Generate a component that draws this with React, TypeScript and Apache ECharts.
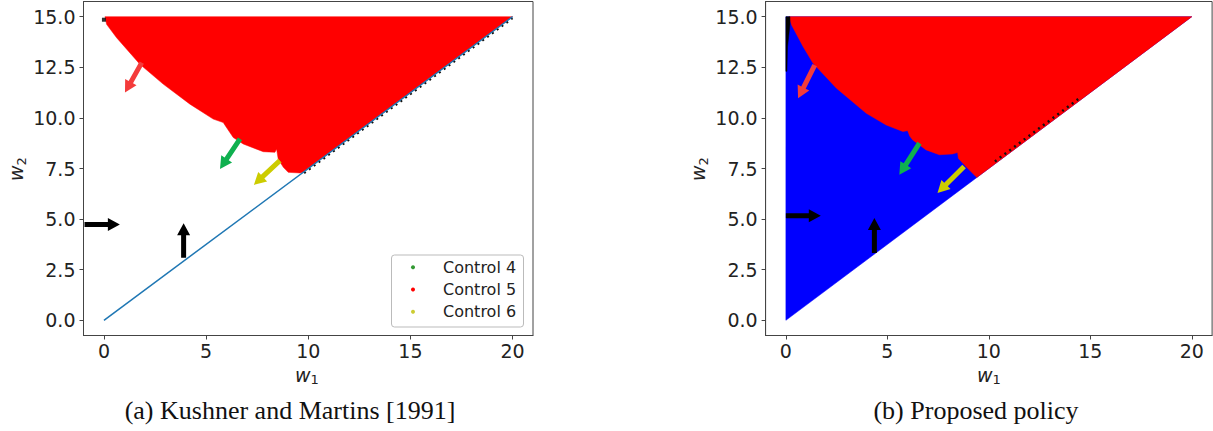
import React, { useEffect, useRef } from 'react';
import * as echarts from 'echarts';

// ---------- data ----------
const xTicks = [0, 5, 10, 15, 20];
const yTicks = [0, 2.5, 5, 7.5, 10, 12.5, 15];
const legendNames = ['Control 4', 'Control 5', 'Control 6'];
const legendColors = ['#008000', '#ff0000', '#bfbf00'];
const captions = ['(a) Kushner and Martins [1991]', '(b) Proposed policy'];

// w2 = 0.75 w1 boundary line
const diagonalLine = [[0, 0], [20, 15]];

// (a) region where control 5 is used (lower boundary, then closing corner)
const leftRedRegion = [
  [0.05, 15], [0.13, 14.62], [0.62, 13.96], [1.76, 12.65], [2.9, 11.67],
  [4.21, 10.68], [5.35, 9.94], [5.84, 9.77], [5.95, 9.6], [6.33, 9.03],
  [6.82, 8.71], [7.8, 8.33], [8.37, 8.3], [8.45, 8.46], [8.53, 7.97],
  [8.78, 7.56], [9.02, 7.31], [9.59, 7.28], [9.76, 7.32], [20, 15],
];
const leftBlackCorner = [[0, 14.85]];
const leftDiagDots = [[9.8, 7.27], [20, 14.92]];
// arrows: [x0, y0, x1, y1]
const leftArrows = [
  [1.85, 12.73, 1.03, 11.25],
  [6.66, 8.96, 5.68, 7.48],
  [8.61, 7.89, 7.34, 6.69],
  [-0.95, 4.73, 0.78, 4.73],
  [3.9, 3.09, 3.9, 4.8],
];

// (b)
const rightBlueRegion = [[0, 0], [0, 15], [20, 15]];
const rightRedRegion = [
  [0.16, 15], [0.28, 14.59], [0.85, 13.52], [1.34, 12.7], [2.49, 11.47],
  [3.96, 10.23], [4.94, 9.65], [5.76, 9.33], [6.0, 9.37], [6.1, 9.1],
  [6.25, 8.91], [6.91, 8.42], [7.56, 8.18], [8.21, 8.22], [8.46, 8.29],
  [8.5, 8.0], [8.87, 7.6], [9.36, 7.1], [9.4, 7.05], [20, 15],
];
const rightBlackStrip = [[0, 15], [0.2, 15], [0.2, 14.6], [0.08, 13.5], [0.05, 12.3], [0, 12.3]];
const rightDiagDots = [[10.3, 7.85], [14.5, 11.0]];
const rightArrows = [
  [1.42, 12.61, 0.6, 10.97],
  [6.58, 8.75, 5.59, 7.19],
  [8.78, 7.6, 7.47, 6.29],
  [0, 5.17, 1.72, 5.17],
  [4.36, 3.32, 4.36, 5.05],
];
const arrowColors = ['#f43b3b', '#0fb04f', '#cccc00', '#000000', '#000000'];

// ---------- helpers ----------
const FONT = '"DejaVu Sans", sans-serif';
const AX = '#444';

function region(name: string, xi: number, pts: number[][], color: string, z: number) {
  return {
    type: 'custom',
    name,
    xAxisIndex: xi,
    yAxisIndex: xi,
    z,
    silent: true,
    data: pts,
    renderItem: (params: any, api: any) => {
      if (params.dataIndex !== 0) return null;
      return {
        type: 'polygon',
        shape: { points: pts.map((p) => api.coord(p)) },
        style: { fill: color, stroke: color, lineWidth: 0.5 },
      };
    },
  };
}

function arrows(xi: number, list: number[][]) {
  return {
    type: 'custom',
    xAxisIndex: xi,
    yAxisIndex: xi,
    z: 10,
    silent: true,
    encode: { x: [0, 2], y: [1, 3] },
    data: list.map((a, i) => ({ value: a, itemStyle: { color: arrowColors[i] } })),
    renderItem: (params: any, api: any) => {
      const p0 = api.coord([api.value(0), api.value(1)]);
      const p1 = api.coord([api.value(2), api.value(3)]);
      const dx = p1[0] - p0[0];
      const dy = p1[1] - p0[1];
      const len = Math.sqrt(dx * dx + dy * dy) || 1;
      const ux = dx / len, uy = dy / len;
      const nx = -uy, ny = ux;
      const sw = 5 / 2, hw = 13 / 2, hl = 12;
      const bx = p1[0] - ux * hl, by = p1[1] - uy * hl;
      const points = [
        [p0[0] + nx * sw, p0[1] + ny * sw],
        [bx + nx * sw, by + ny * sw],
        [bx + nx * hw, by + ny * hw],
        [p1[0], p1[1]],
        [bx - nx * hw, by - ny * hw],
        [bx - nx * sw, by - ny * sw],
        [p0[0] - nx * sw, p0[1] - ny * sw],
      ];
      return { type: 'polygon', shape: { points }, style: { fill: api.visual('color') } };
    },
  };
}

function xAxis(gi: number) {
  return {
    gridIndex: gi,
    type: 'value',
    min: -1,
    max: 21,
    axisLine: { show: true, onZero: false, lineStyle: { color: AX, width: 1 } },
    axisTick: { show: true, length: 4, lineStyle: { color: AX }, customValues: xTicks },
    axisLabel: { customValues: xTicks, fontSize: 19, fontFamily: FONT, color: '#222', margin: 6 },
    splitLine: { show: false },
  };
}

function yAxis(gi: number) {
  return {
    gridIndex: gi,
    type: 'value',
    min: -0.75,
    max: 15.75,
    axisLine: { show: true, onZero: false, lineStyle: { color: AX, width: 1 } },
    axisTick: { show: true, length: 4, lineStyle: { color: AX }, customValues: yTicks },
    axisLabel: {
      customValues: yTicks,
      fontSize: 19,
      fontFamily: FONT,
      color: '#222',
      margin: 8,
      formatter: (v: number) => v.toFixed(1),
    },
    splitLine: { show: false },
  };
}

function xName(cx: number) {
  return [
    { type: 'text', z: 30, style: { text: 'w', x: cx - 12, y: 374.5, font: `italic 19px ${FONT}`, fill: '#222', align: 'left', verticalAlign: 'middle' } },
    { type: 'text', z: 30, style: { text: '1', x: cx + 3.5, y: 379.5, font: `13px ${FONT}`, fill: '#222', align: 'left', verticalAlign: 'middle' } },
  ];
}

function yName(x: number, y: number) {
  return {
    type: 'group',
    x,
    y,
    rotation: Math.PI / 2,
    z: 30,
    children: [
      { type: 'text', style: { text: 'w', x: -12, y: 0, font: `italic 19px ${FONT}`, fill: '#222', align: 'left', verticalAlign: 'middle' } },
      { type: 'text', style: { text: '2', x: 3.5, y: 5, font: `13px ${FONT}`, fill: '#222', align: 'left', verticalAlign: 'middle' } },
    ],
  };
}

export default function App() {
  const ref = useRef<HTMLDivElement>(null);

  useEffect(() => {
    if (!ref.current) return;
    const chart = echarts.init(ref.current, null, { renderer: 'svg' });
    const option: any = {
      animation: false,
      backgroundColor: '#ffffff',
      grid: [
        { left: 83.5, top: 1.5, width: 449.5, height: 334, show: true, borderColor: AX, borderWidth: 1, backgroundColor: 'transparent' },
        { left: 765.6, top: 1.5, width: 446.5, height: 334, show: true, borderColor: AX, borderWidth: 1, backgroundColor: 'transparent' },
      ],
      xAxis: [xAxis(0), xAxis(1)],
      yAxis: [yAxis(0), yAxis(1)],
      legend: {
        orient: 'vertical',
        left: 411,
        top: 259.3,
        itemWidth: 50,
        itemHeight: 4,
        itemGap: 6.2,
        z: 20,
        selectedMode: false,
        padding: 0,
        textStyle: { fontSize: 16, fontFamily: FONT, color: '#222', lineHeight: 16 },
        data: legendNames.map((n, i) => ({ name: n, icon: 'circle', itemStyle: { color: legendColors[i] } })),
      },
      series: [
        { type: 'scatter', name: legendNames[0], xAxisIndex: 0, yAxisIndex: 0, data: [], itemStyle: { color: legendColors[0] } },
        region(legendNames[1], 0, leftRedRegion, '#ff0000', 3),
        { type: 'scatter', name: legendNames[2], xAxisIndex: 0, yAxisIndex: 0, data: [], itemStyle: { color: legendColors[2] } },
        {
          type: 'line', xAxisIndex: 0, yAxisIndex: 0, data: leftDiagDots, showSymbol: false, silent: true, z: 4,
          lineStyle: { color: '#111', width: 2, type: [2, 4] },
        },
        {
          type: 'line', xAxisIndex: 0, yAxisIndex: 0, data: diagonalLine, showSymbol: false, silent: true, z: 5,
          lineStyle: { color: '#1f77b4', width: 1.5 },
        },
        {
          type: 'scatter', xAxisIndex: 0, yAxisIndex: 0, data: leftBlackCorner, symbol: 'rect', symbolSize: 4, silent: true, z: 6,
          itemStyle: { color: '#000' },
        },
        arrows(0, leftArrows),

        region('blue', 1, rightBlueRegion, '#0000ff', 2),
        region('red', 1, rightRedRegion, '#ff0000', 3),
        region('black', 1, rightBlackStrip, '#000000', 4),
        {
          type: 'line', xAxisIndex: 1, yAxisIndex: 1, data: rightDiagDots, showSymbol: false, silent: true, z: 4,
          lineStyle: { color: '#111', width: 2.5, type: [2, 4] },
        },
        arrows(1, rightArrows),
      ],
      graphic: {
        elements: [
          {
            type: 'rect', z: 15,
            shape: { x: 391.5, y: 255, width: 132, height: 72, r: 3 },
            style: { fill: 'rgba(255,255,255,0.8)', stroke: '#bbbbbb', lineWidth: 1 },
          },
          ...xName(307),
          ...xName(989),
          yName(16, 169),
          yName(698, 169),
          { type: 'text', z: 30, style: { text: captions[0], x: 290, y: 410, font: '26px "Liberation Serif", serif', fill: '#111', align: 'center', verticalAlign: 'middle' } },
          { type: 'text', z: 30, style: { text: captions[1], x: 976, y: 410, font: '26px "Liberation Serif", serif', fill: '#111', align: 'center', verticalAlign: 'middle' } },
        ],
      },
    };
    chart.setOption(option);
    return () => chart.dispose();
  }, []);

  return <div ref={ref} style={{ position: 'fixed', left: 0, top: 0, width: 1213, height: 431 }} />;
}
